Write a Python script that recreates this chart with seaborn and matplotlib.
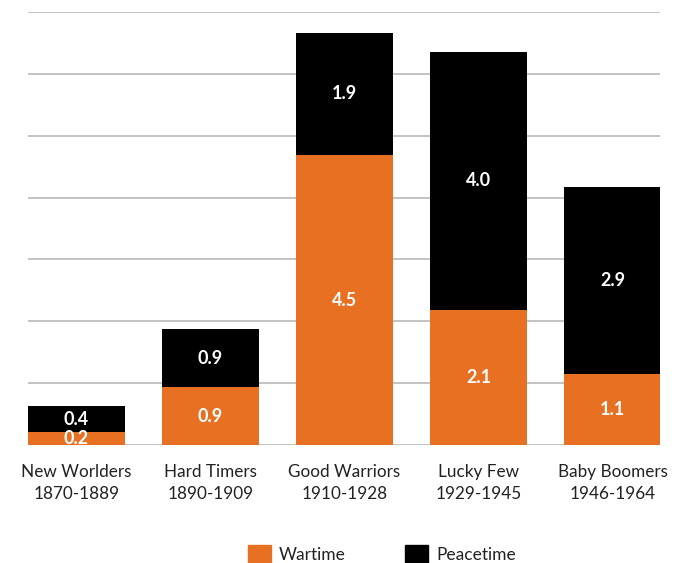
import numpy as np
import matplotlib.pyplot as plt
import seaborn as sns
from matplotlib.patches import Patch

generations = ["New Worlders\n1870-1889", "Hard Timers\n1890-1909", "Good Warriors\n1910-1928",
               "Lucky Few\n1929-1945", "Baby Boomers\n1946-1964"]
wartime = [0.2, 0.9, 4.5, 2.1, 1.1]
peacetime = [0.4, 0.9, 1.9, 4.0, 2.9]
labels_war = ["0.2", "0.9", "4.5", "2.1", "1.1"]
labels_peace = ["0.4", "0.9", "1.9", "4.0", "2.9"]

orange = "#E87022"
total = [w + p for w, p in zip(wartime, peacetime)]

sns.set_style("white")
plt.rcParams['font.family'] = ['Lato', 'DejaVu Sans']

fig = plt.figure(figsize=(6.79, 5.63), dpi=100)
ax = fig.add_axes([28 / 679, 118 / 563, 632 / 679, 433 / 563])

# grid drawn first, bars on top
ax.set_yticks(np.arange(0, 7, 0.96))
ax.yaxis.grid(True, color="#b3b3b3", linewidth=1.1)
ax.set_axisbelow(True)

sns.barplot(x=generations, y=total, color="black", width=0.724, saturation=1,
            linewidth=0, ax=ax)
sns.barplot(x=generations, y=wartime, color=orange, width=0.724, saturation=1,
            linewidth=0, ax=ax)

for i in range(len(generations)):
    ax.text(i, wartime[i] / 2, labels_war[i], ha="center", va="center",
            color="white", fontsize=13, fontweight="bold")
    ax.text(i, wartime[i] + peacetime[i] / 2, labels_peace[i], ha="center", va="center",
            color="white", fontsize=13, fontweight="bold")

ax.set_ylim(0, 6.72)
ax.set_xlim(-0.362, 4.354)
ax.set_yticklabels([])
ax.tick_params(axis="y", length=0)
ax.tick_params(axis="x", length=0, labelsize=12.3, labelcolor="#222222", pad=14)
for lab in ax.get_xticklabels():
    lab.set_linespacing(1.45)
for s in ["top", "right", "left", "bottom"]:
    ax.spines[s].set_visible(False)

handles = [Patch(color=orange, label="Wartime"), Patch(color="black", label="Peacetime")]
fig.legend(handles=handles, loc="center", bbox_to_anchor=(0.562, 0.015), ncol=2,
           frameon=False, fontsize=12.5, handlelength=1.35, handleheight=1.35,
           columnspacing=3.4, handletextpad=0.45, labelcolor="#222222")

fig.savefig("out.png", dpi=100)
